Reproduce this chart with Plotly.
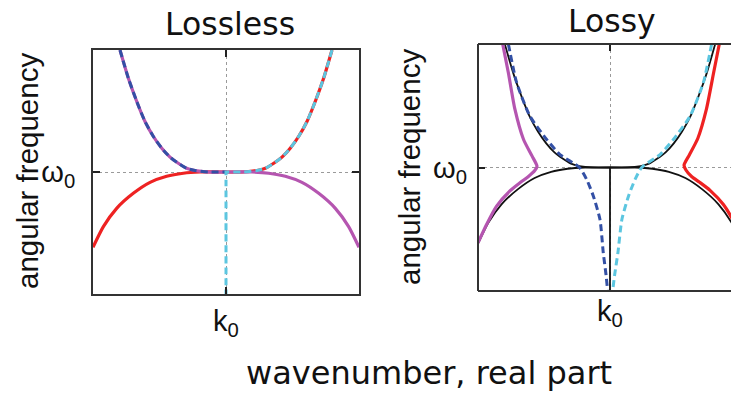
import plotly.graph_objects as go

# ---- data (k relative to k0, omega relative to omega0) ----
# lossless panel
upper_left_k = [-0.797, -0.734, -0.671, -0.609, -0.546, -0.483, -0.421, -0.359, -0.296, -0.233, -0.132, 0.0]
upper_left_w = [1.0, 0.768, 0.578, 0.414, 0.291, 0.195, 0.122, 0.072, 0.031, 0.012, 0.0, 0.0]
upper_right_k = [0.0, 0.132, 0.233, 0.296, 0.359, 0.421, 0.483, 0.546, 0.609, 0.671, 0.734, 0.797]
upper_right_w = [0.0, 0.0, 0.012, 0.031, 0.072, 0.122, 0.195, 0.291, 0.414, 0.578, 0.768, 1.0]
lower_left_k = [-1.0, -0.922, -0.822, -0.697, -0.571, -0.446, -0.321, -0.195, 0.0]
lower_left_w = [-0.617, -0.448, -0.298, -0.175, -0.085, -0.035, -0.010, 0.0, 0.0]
lower_right_k = [0.0, 0.195, 0.321, 0.446, 0.571, 0.697, 0.822, 0.922, 1.0]
lower_right_w = [0.0, 0.0, -0.010, -0.035, -0.085, -0.175, -0.298, -0.448, -0.617]
center_k = [0.0, 0.0]
center_w = [0.0, -1.0]

# lossy panel
magenta_k = [-1.0, -0.934, -0.859, -0.758, -0.682, -0.62, -0.57, -0.553, -0.59, -0.655, -0.72, -0.77, -0.813]
magenta_w = [-0.61, -0.46, -0.313, -0.19, -0.124, -0.075, -0.025, 0.01, 0.092, 0.227, 0.47, 0.767, 1.0]
red_k = [0.98, 0.934, 0.859, 0.758, 0.682, 0.62, 0.575, 0.561, 0.6, 0.665, 0.73, 0.785, 0.828]
red_w = [-0.53, -0.43, -0.30, -0.185, -0.122, -0.075, -0.02, 0.02, 0.10, 0.235, 0.47, 0.767, 1.0]
blue_k = [-0.77, -0.707, -0.606, -0.48, -0.379, -0.232, -0.177, -0.126, -0.076, -0.051, -0.03, -0.018]
blue_w = [1.0, 0.686, 0.415, 0.227, 0.105, 0.0, -0.097, -0.232, -0.421, -0.69, -0.87, -1.0]
cyan_k = [0.77, 0.707, 0.606, 0.48, 0.379, 0.24, 0.19, 0.14, 0.09, 0.06, 0.035, 0.02]
cyan_w = [1.0, 0.686, 0.415, 0.227, 0.105, 0.0, -0.097, -0.232, -0.421, -0.69, -0.87, -1.0]

RED = "#ee2222"
MAGENTA = "#b555b0"
BLUE = "#3350a5"
CYAN = "#5cc6e0"
FRAME = "#333333"
LABEL_FONT = "Liberation Sans, Arial, sans-serif"
TITLE_FONT = "DejaVu Sans, sans-serif"

fig = go.Figure()


def line(x, y, color, width, dash="solid", ax="1"):
    xa = "x" if ax == "1" else "x2"
    ya = "y" if ax == "1" else "y2"
    fig.add_trace(go.Scatter(
        x=x, y=y, mode="lines", xaxis=xa, yaxis=ya, showlegend=False, hoverinfo="skip",
        line=dict(color=color, width=width, dash=dash, shape="spline", smoothing=0.6),
    ))


# branches running through the flat part at omega0
red_branch_k = lower_left_k + upper_right_k
red_branch_w = lower_left_w + upper_right_w
magenta_branch_k = lower_right_k[::-1] + upper_left_k[::-1]
magenta_branch_w = lower_right_w[::-1] + upper_left_w[::-1]

# Lossless
line(red_branch_k, red_branch_w, RED, 3.2)
line(magenta_branch_k, magenta_branch_w, MAGENTA, 3.2)
line(upper_left_k, upper_left_w, BLUE, 3, dash="7px,4px")
line(upper_right_k[::-1] + center_k, upper_right_w[::-1] + center_w, CYAN, 3, dash="7px,4px")

# Lossy
line(red_branch_k, red_branch_w, "#111111", 1.8, ax="2")
line(magenta_branch_k, magenta_branch_w, "#111111", 1.8, ax="2")
line(center_k, center_w, "#111111", 1.8, ax="2")
line(magenta_k, magenta_w, MAGENTA, 3.2, ax="2")
line(red_k, red_w, RED, 3.2, ax="2")
line(blue_k, blue_w, BLUE, 3, dash="7px,4px", ax="2")
line(cyan_k, cyan_w, CYAN, 3, dash="7px,4px", ax="2")

# the page body keeps its default 8px margin; the figure runs to the window's right edge
OFF = 8
W, H = 739 - OFF, 403 - 2 * OFF


def fx(px):
    return min(max((px - OFF) / W, 0.0), 1.0)


def fy(py):
    return 1 - (py - OFF) / H


right_end = OFF + W  # right panel runs off the page edge in the original

common_x = dict(
    ticks="inside", ticklen=7, tickwidth=2,
    tickcolor="#222222", tickvals=[0], ticktext=["k<sub>0</sub>"], showgrid=True,
    gridcolor="#9a9a9a", griddash="dot", gridwidth=1, zeroline=False,
    tickfont=dict(family=LABEL_FONT, size=29, color="#111111"), ticklabelstandoff=0,
)
common_y = dict(
    ticks="inside", ticklen=7, tickwidth=2,
    tickcolor="#222222", tickvals=[0], ticktext=["ω<sub>0</sub>"], showgrid=True,
    gridcolor="#9a9a9a", griddash="dot", gridwidth=1, zeroline=False,
    tickfont=dict(family=LABEL_FONT, size=29, color="#111111"), ticklabelstandoff=10,
    range=[-1, 1],
)

fig.update_layout(
    width=W, height=H, margin=dict(l=0, r=0, t=0, b=0),
    plot_bgcolor="white", paper_bgcolor="white",
    xaxis=dict(common_x, domain=[fx(93), fx(359)], range=[-1, 1], mirror="ticks", anchor="y",
               showline=True, linecolor=FRAME, linewidth=2),
    yaxis=dict(common_y, domain=[fy(294), fy(50)], mirror="ticks", anchor="x",
               showline=True, linecolor=FRAME, linewidth=2),
    xaxis2=dict(common_x, domain=[fx(478), 1.0], range=[-1, (right_end - 610) / 132],
                mirror="allticks", anchor="y2", showline=False),
    yaxis2=dict(common_y, domain=[fy(291), fy(44)], mirror=False, anchor="x2", showline=False),
)

# open frame of the lossy panel (its right side is cut off by the page edge)
for x0, y0, x1, y1 in [(478, 44, 478, 291), (478, 44, right_end, 44), (478, 291, right_end, 291)]:
    fig.add_shape(type="line", xref="paper", yref="paper", x0=fx(x0), y0=fy(y0), x1=fx(x1), y1=fy(y1),
                  line=dict(color=FRAME, width=2), layer="above")

annotations = [
    dict(text="Lossless", x=fx(230), y=fy(24), font=dict(family=TITLE_FONT, size=31.5)),
    dict(text="Lossy", x=fx(612), y=fy(21), font=dict(family=TITLE_FONT, size=31.5)),
    dict(text="wavenumber, real part", x=fx(429), y=fy(373), font=dict(family=TITLE_FONT, size=32)),
    dict(text="angular frequency", x=fx(28), y=fy(171), textangle=-90,
         font=dict(family=LABEL_FONT, size=29.5)),
    dict(text="angular frequency", x=fx(409), y=fy(167), textangle=-90,
         font=dict(family=LABEL_FONT, size=29.5)),
]
for a in annotations:
    a["font"]["color"] = "#111111"
    fig.add_annotation(xref="paper", yref="paper", showarrow=False, xanchor="center", yanchor="middle", **a)

fig.write_html("out.html")
